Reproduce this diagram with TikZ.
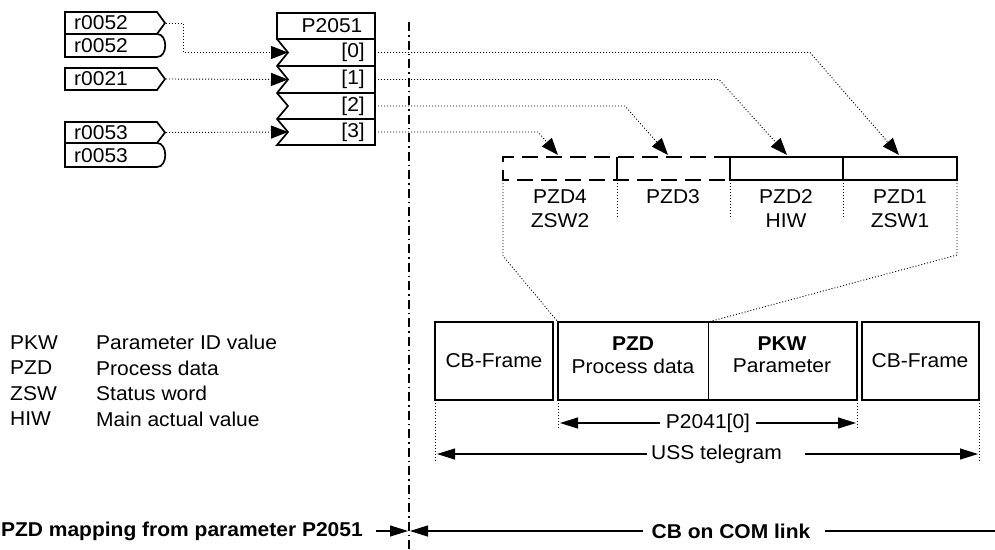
\documentclass[tikz,border=0pt]{standalone}
\usepackage{fontspec}
\setmainfont[FakeStretch=1.05]{Liberation Sans}
\usetikzlibrary{arrows.meta}
\tikzset{
  lbl/.style={font=\fontsize{20}{22}\selectfont, inner sep=0pt},
  blbl/.style={font=\fontsize{20}{22}\selectfont\bfseries, inner sep=0pt},
  boxline/.style={draw, line width=2.4pt},
  inbox/.style={draw, line width=1.7pt},
  dotl/.style={line width=0.9pt, dash pattern=on 1pt off 2pt},
  bigtip/.style={-{Triangle[length=17pt,width=13pt]}},
  thintip/.style={line width=1.2pt, -{Triangle[length=18pt,width=11pt]}},
  dashbox/.style={line width=2.4pt, dash pattern=on 16pt off 8pt},
  centerline/.style={line width=1.2pt, dash pattern=on 9pt off 4pt on 1.5pt off 4pt}
}
\begin{document}
\begin{tikzpicture}[x=1pt,y=-1pt]
\useasboundingbox (0,0) rectangle (995,549);

% ---- source connectors ----
\draw[inbox] (65,12) -- (157,12) -- (165,23) -- (157,34) -- (65,34) -- cycle;
\draw[inbox] (65,34) -- (157,34) .. controls (168,34) and (168,57) .. (157,57) -- (65,57) -- cycle;
\draw[inbox] (65,68) -- (157,68) -- (165,79) -- (157,90) -- (65,90) -- cycle;
\draw[inbox] (65,122) -- (157,122) -- (165,132.5) -- (157,143) -- (65,143) -- cycle;
\draw[inbox] (65,143) -- (157,143) .. controls (168,143) and (168,167) .. (157,167) -- (65,167) -- cycle;
\node[lbl, anchor=west] (rA) at (74,23) {r0052};
\node[lbl, anchor=west] (rB) at (74,46) {r0052};
\node[lbl, anchor=west] (rC) at (74,79) {r0021};
\node[lbl, anchor=west] (rD) at (74,132.5) {r0053};
\node[lbl, anchor=west] (rE) at (74,155.5) {r0053};
\coordinate (rAtip) at (166,23);
\coordinate (rCtip) at (166,79);
\coordinate (rDtip) at (166,132.5);

% ---- P2051 block ----
\draw[inbox] (277,13) rectangle (375,39);
\draw[inbox] (277,39) -- (288,52.5) -- (277,66) -- (288,79.5) -- (277,93) -- (288,106) -- (277,119) -- (288,132) -- (277,145) -- (375,145) -- (375,39);
\draw[inbox] (277,66) -- (375,66) (277,93) -- (375,93) (277,119) -- (375,119);
\node[lbl] (p2051) at (332,26) {P2051};
\node[lbl, anchor=east] (i0) at (365,52.5) {[0]};
\node[lbl, anchor=east] (i1) at (365,79.5) {[1]};
\node[lbl, anchor=east] (i2) at (365,106) {[2]};
\node[lbl, anchor=east] (i3) at (365,132) {[3]};
\coordinate (in0) at (288,52.5);
\coordinate (in1) at (288,79.5);
\coordinate (in3) at (288,132);
\coordinate (out0) at (378,52.5);
\coordinate (out1) at (378,79.5);
\coordinate (out2) at (378,106);
\coordinate (out3) at (378,132);

\draw[dotl, bigtip] (rAtip) -- (183,23) -- (183,52.5) -- (in0);
\draw[dotl, bigtip] (rCtip) -- (in1);
\draw[dotl, bigtip] (rDtip) -- (in3);

% ---- separator line ----
\draw[centerline] (409,22) -- (409,549);

% ---- PZD words ----
\draw[dashbox] (730,157) -- (503,157) -- (503,180) -- (730,180);
\draw[boxline] (617,157) -- (617,180) (730,157) -- (730,180);
\draw[boxline] (730,157) rectangle (957,180);
\draw[boxline] (843,157) -- (843,180);
\coordinate (pzd4) at (558,155);
\coordinate (pzd3) at (668,155);
\coordinate (pzd2) at (787,155);
\coordinate (pzd1) at (899,155);

\draw[dotl, bigtip] (out0) -- (810,52.5) -- (pzd1);
\draw[dotl, bigtip] (out1) -- (719,79.5) -- (pzd2);
\draw[dotl, bigtip] (out2) -- (625,106) -- (pzd3);
\draw[dotl, bigtip] (out3) -- (538,132) -- (pzd4);

\node[lbl] (l4a) at (560,197) {PZD4};
\node[lbl] (l4b) at (560,221) {ZSW2};
\node[lbl] (l3a) at (673,197) {PZD3};
\node[lbl] (l2a) at (786,197) {PZD2};
\node[lbl] (l2b) at (786,221) {HIW};
\node[lbl] (l1a) at (900,197) {PZD1};
\node[lbl] (l1b) at (900,221) {ZSW1};

\draw[dotl] (617,180) -- (617,218) (730,180) -- (730,218) (843,180) -- (843,218);

% ---- telegram frame ----
\draw[boxline] (435,322) rectangle (553,400);
\draw[boxline] (558,322) rectangle (857,400);
\draw[line width=1pt] (708,322) -- (708,400);
\draw[boxline] (862,322) rectangle (979,400);
\node[lbl] (cbl) at (494,361) {CB-Frame};
\node[blbl] (pzdh) at (633,344) {PZD};
\node[lbl] (pzdt) at (633,366) {Process data};
\node[blbl] (pkwh) at (782,344) {PKW};
\node[lbl] (pkwt) at (782,366) {Parameter};
\node[lbl] (cbr) at (920,361) {CB-Frame};

\draw[dotl] (503,180) -- (503,256) -- (558,322);
\draw[dotl] (957,180) -- (957,255) -- (708,322);

\draw[dotl] (435,400) -- (435,463) (979,400) -- (979,463);
\draw[dotl] (558,400) -- (558,428) (857,400) -- (857,428);

\node[lbl, inner xsep=6pt] (p2041) at (708,423) {P2041[0]};
\coordinate (pl) at (560,423);
\coordinate (pr) at (856,423);
\draw[thintip] (p2041.west) -- (pl);
\draw[thintip] (p2041.east) -- (pr);

\node[lbl, anchor=west] (uss) at (651,454) {USS telegram};
\coordinate (ul) at (437,454);
\coordinate (ur) at (978,454);
\coordinate (ustart) at (805,454);
\draw[thintip] ([xshift=-4pt]uss.west) -- (ul);
\draw[thintip] (ustart) -- (ur);

% ---- legend ----
\node[lbl, anchor=west] (k1) at (10,342.5) {PKW};
\node[lbl, anchor=west] (k2) at (10,368) {PZD};
\node[lbl, anchor=west] (k3) at (10,393.5) {ZSW};
\node[lbl, anchor=west] (k4) at (10,419) {HIW};
\node[lbl, anchor=west] (d1) at (96,342.5) {Parameter ID value};
\node[lbl, anchor=west] (d2) at (96,368) {Process data};
\node[lbl, anchor=west] (d3) at (96,393.5) {Status word};
\node[lbl, anchor=west] (d4) at (96,419) {Main actual value};

% ---- bottom captions ----
\node[blbl, anchor=east] (map) at (363,531) {PZD mapping from parameter P2051};
\node[blbl] (com) at (731,531) {CB on COM link};
\coordinate (ml) at (376,531);
\coordinate (mtip) at (408,531);
\coordinate (ctip) at (410,531);
\coordinate (cl) at (643,531);
\coordinate (cr) at (825,531);
\coordinate (cend) at (995,531);
\draw[thintip] (ml) -- (mtip);
\draw[thintip] (cl) -- (ctip);
\draw[line width=1.2pt] (cr) -- (cend);
\end{tikzpicture}
\end{document}
